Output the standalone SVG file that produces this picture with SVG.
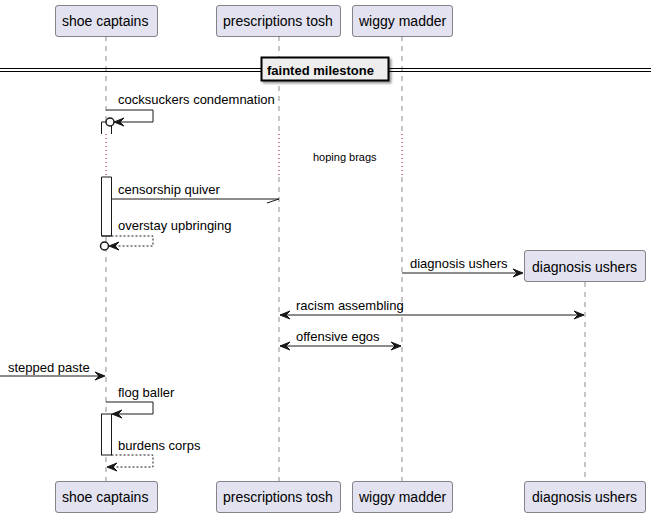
<svg xmlns="http://www.w3.org/2000/svg" width="656" height="516" viewBox="0 0 656 516">
<defs>
<style>
.part rect{fill:#E2E2F0;stroke:#181818;stroke-width:0.5}
.part text{font-family:"Liberation Sans",Arial,sans-serif;font-size:14px;fill:#000}
.life{stroke:#181818;stroke-width:0.5;stroke-dasharray:5,5;fill:none}
.delay{stroke:#A80036;stroke-width:1;stroke-dasharray:1,3;fill:none}
.msg{stroke:#181818;stroke-width:1;fill:none}
.ret{stroke:#181818;stroke-width:1;fill:none;stroke-dasharray:2,2}
.lbl{font-family:"Liberation Sans",Arial,sans-serif;font-size:13px;fill:#000}
.head{fill:#181818;stroke:#181818;stroke-width:1}
.act{fill:#FFFFFF;stroke:#181818;stroke-width:1}
</style>
<filter id="sh" x="-10%" y="-20%" width="130%" height="160%">
<feDropShadow dx="2" dy="2" stdDeviation="1" flood-color="#000" flood-opacity="0.4"/>
</filter>
</defs>
<rect width="656" height="516" fill="#FFFFFF"/>

<g id="lifelines">
<line class="life" x1="106" y1="36" x2="106" y2="134"/>
<line class="life" x1="106" y1="177" x2="106" y2="481"/>
<line class="life" x1="279" y1="36" x2="279" y2="134"/>
<line class="life" x1="279" y1="177" x2="279" y2="481"/>
<line class="life" x1="402" y1="36" x2="402" y2="134"/>
<line class="life" x1="402" y1="177" x2="402" y2="481"/>
<line class="life" x1="585" y1="282" x2="585" y2="481"/>
<line class="delay" x1="106" y1="134" x2="106" y2="177"/>
<line class="delay" x1="279" y1="134" x2="279" y2="177"/>
<line class="delay" x1="402" y1="134" x2="402" y2="177"/>
</g>

<g id="activations">
<path class="act" d="M101.5,134 L101.5,122 L111.5,122 L111.5,134" fill="none"/>
<path class="act" d="M101.5,177 L101.5,236 L111.5,236 L111.5,177 Z" stroke="none"/>
<path d="M101.5,177 L101.5,236 L111.5,236 L111.5,177" fill="none" stroke="#181818" stroke-width="1"/>
<rect class="act" x="101.5" y="414" width="10" height="41"/>
</g>

<g id="divider">
<line x1="0" y1="68.5" x2="651" y2="68.5" stroke="#000" stroke-width="1"/>
<line x1="0" y1="71.5" x2="651" y2="71.5" stroke="#000" stroke-width="1"/>
<rect x="261.5" y="57.5" width="127" height="23" fill="#EEEEEE" stroke="#000" stroke-width="2" filter="url(#sh)"/>
<text x="267" y="75" font-family="'Liberation Sans',Arial,sans-serif" font-size="13" font-weight="bold">fainted milestone</text>
</g>

<g id="connectors">
<!-- cocksuckers condemnation -->
<text class="lbl" x="118" y="104">cocksuckers condemnation</text>
<polyline class="msg" points="106,110 153,110 153,122 115,122"/>
<polygon class="head" points="114,122 124,118 120,122 124,126"/>
<circle cx="110" cy="122" r="4" fill="#FFFFFF" stroke="#181818" stroke-width="1.5"/>
<!-- delay -->
<text x="313" y="161" font-family="'Liberation Sans',Arial,sans-serif" font-size="11">hoping brags</text>
<!-- censorship quiver -->
<text class="lbl" x="118" y="194">censorship quiver</text>
<line class="msg" x1="111.5" y1="199" x2="279" y2="199"/>
<line class="msg" x1="279" y1="199" x2="267" y2="203"/>
<!-- overstay upbringing -->
<text class="lbl" x="118" y="230">overstay upbringing</text>
<polyline class="ret" points="111.5,236 153,236 153,246 110,246"/>
<polygon class="head" points="109,246 119,242 115,246 119,250"/>
<circle cx="104.5" cy="246" r="4" fill="#FFFFFF" stroke="#181818" stroke-width="1.5"/>
<!-- diagnosis ushers create -->
<text class="lbl" x="410" y="268">diagnosis ushers</text>
<line class="msg" x1="402" y1="273" x2="522" y2="273"/>
<polygon class="head" points="523,273 513,269 517,273 513,277"/>
<!-- racism assembling -->
<text class="lbl" x="296" y="310">racism assembling</text>
<line class="msg" x1="280" y1="315" x2="584" y2="315"/>
<polygon class="head" points="280,315 290,311 286,315 290,319"/>
<polygon class="head" points="584,315 574,311 578,315 574,319"/>
<!-- offensive egos -->
<text class="lbl" x="296" y="341">offensive egos</text>
<line class="msg" x1="280" y1="346" x2="401" y2="346"/>
<polygon class="head" points="280,346 290,342 286,346 290,350"/>
<polygon class="head" points="401,346 391,342 395,346 391,350"/>
<!-- stepped paste -->
<text class="lbl" x="8" y="372">stepped paste</text>
<line class="msg" x1="0" y1="376" x2="104" y2="376"/>
<polygon class="head" points="105,376 95,372 99,376 95,380"/>
<!-- flog baller -->
<text class="lbl" x="118" y="397">flog baller</text>
<polyline class="msg" points="106,402 153,402 153,414 113,414"/>
<polygon class="head" points="112,414 122,410 118,414 122,418"/>
<!-- burdens corps -->
<text class="lbl" x="118" y="450">burdens corps</text>
<polyline class="ret" points="111.5,455 153,455 153,467 108,467"/>
<polygon class="head" points="107,467 117,463 113,467 117,471"/>
</g>

<g id="p-shoe-captains" class="part">
<rect x="55.5" y="5.5" width="102" height="31" rx="2.5"/>
<text x="62" y="26">shoe captains</text>
<rect x="55.5" y="481.5" width="102" height="31" rx="2.5"/>
<text x="62" y="502">shoe captains</text>
</g>
<g id="p-prescriptions-tosh" class="part">
<rect x="216.5" y="5.5" width="124" height="31" rx="2.5"/>
<text x="223" y="26">prescriptions tosh</text>
<rect x="216.5" y="481.5" width="124" height="31" rx="2.5"/>
<text x="223" y="502">prescriptions tosh</text>
</g>
<g id="p-wiggy-madder" class="part">
<rect x="352.5" y="5.5" width="100" height="31" rx="2.5"/>
<text x="359" y="26">wiggy madder</text>
<rect x="352.5" y="481.5" width="100" height="31" rx="2.5"/>
<text x="359" y="502">wiggy madder</text>
</g>
<g id="p-diagnosis-ushers" class="part">
<rect x="524.5" y="250.5" width="121" height="31" rx="2.5"/>
<text x="532" y="272">diagnosis ushers</text>
<rect x="524.5" y="481.5" width="121" height="31" rx="2.5"/>
<text x="532" y="502">diagnosis ushers</text>
</g>
</svg>
